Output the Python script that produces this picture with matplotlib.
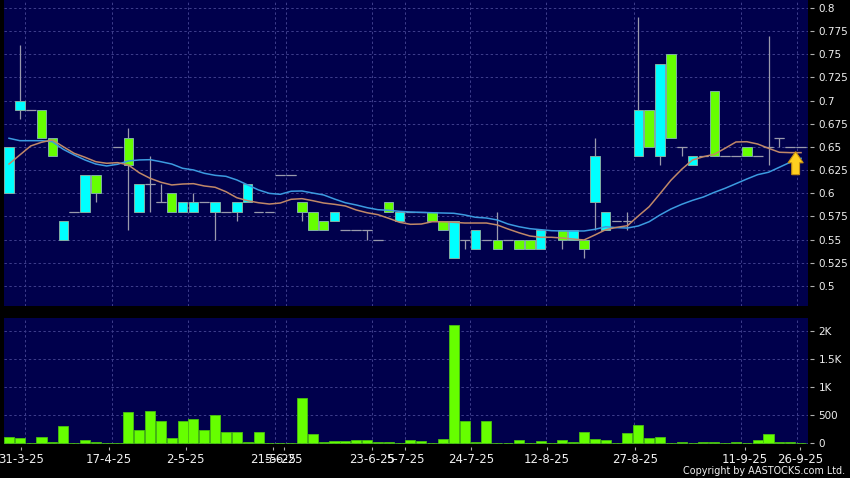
import numpy as np
import matplotlib
matplotlib.use("Agg")
import matplotlib.pyplot as plt
from matplotlib.patches import FancyArrow

nan = np.nan

# daily prices, one entry per slot
open_vals = [.60, .69, .69, .69, .66, .55, .58, .58, .62, nan, .65, .66, .58, .61, .59, .60, .58, .58, .59,
             .58, .58, .58, .59, .58, .58, .62, .62, .59, .58, .57, .57, .56, .56, .56, .55, .59, .57,
             .58, .58, .58, .57, .53, .55, .54, .55, .55, .55, .55, .55, .54, nan, .56, .55, .55, .59,
             .56, .57, .57, .64, .69, .64, .75, .65, .63, .64, .71, .64, .64, .65, .64, .65, .66, .65, .65]
high_vals = [.65, .76, .69, .69, .66, .57, .58, .62, .62, nan, .65, .67, .61, .64, .61, .60, .59, .60, .59,
             .59, .58, .59, .61, .58, .58, .62, .62, .59, .58, .57, .58, .56, .56, .56, .55, .59, .58,
             .58, .58, .58, .57, .57, .55, .56, .55, .58, .55, .55, .55, .56, nan, .56, .56, .55, .66,
             .58, .57, .58, .79, .69, .74, .75, .65, .64, .64, .71, .64, .64, .65, .64, .77, .66, .65, .65]
low_vals = [.60, .68, .69, .66, .64, .55, .58, .58, .59, nan, .65, .56, .58, .58, .59, .58, .58, .58, .59,
            .55, .58, .57, .59, .58, .58, .62, .62, .57, .56, .56, .57, .56, .56, .55, .55, .58, .57,
            .58, .58, .57, .56, .53, .54, .54, .55, .54, .55, .54, .54, .54, nan, .54, .55, .53, .56,
            .56, .57, .56, .64, .65, .63, .66, .64, .63, .64, .64, .64, .64, .64, .64, .63, .65, .65, .65]
close_vals = [.65, .70, .69, .66, .64, .57, .58, .62, .60, nan, .65, .63, .61, .61, .59, .58, .59, .59, .59,
              .59, .58, .59, .61, .58, .58, .62, .62, .58, .56, .56, .58, .56, .56, .56, .55, .58, .58,
              .58, .58, .57, .56, .57, .55, .56, .55, .54, .55, .54, .54, .56, nan, .55, .56, .54, .64,
              .58, .57, .57, .69, .65, .74, .66, .65, .64, .64, .64, .64, .64, .64, .64, .65, .66, .65, .65]

ma_short = [.6315, .6413, .6510, .6550, .6575, .6502, .6431, .6388, .6340, .6323, .6330, .6305, .6221, .6161,
            .6118, .6089, .6099, .6103, .6078, .6064, .6016, .5951, .5919, .5897, .5883, .5894, .5934, .5941,
            .5919, .5894, .5880, .5862, .5819, .5789, .5768, .5729, .5686, .5664, .5667, .5692, .5692, .5686,
            .5678, .5678, .5678, .5657, .5613, .5573, .5538, .5524, .5524, .5516, .5505, .5495, .5549, .5606,
            .5631, .5649, .5754, .5854, .5995, .6139, .6258, .6359, .6394, .6420, .6485, .6553, .6556, .6531,
            .6485, .6442, .6438, .6438]
ma_long = [.6593, .6567, .6567, .6567, .6556, .6474, .6413, .6359, .6315, .6294, .6312, .6348, .6359, .6362,
           .6340, .6315, .6269, .6251, .6215, .6193, .6182, .6143, .6089, .6035, .5998, .5988, .6021, .6024,
           .6002, .5981, .5937, .5897, .5873, .5844, .5822, .5815, .5804, .5797, .5793, .5789, .5786, .5783,
           .5765, .5740, .5732, .5711, .5667, .5638, .5617, .5606, .5595, .5592, .5592, .5592, .5610, .5638,
           .5628, .5624, .5646, .5692, .5765, .5829, .5880, .5923, .5959, .6009, .6053, .6103, .6153, .6200,
           .6226, .6280, .6334, .6377]

volume = [107, 95, 5, 119, 24, 315, 2, 54, 18, 6, 6, 553, 238, 571, 400, 95, 405, 428, 244, 512, 196, 202, 18,
          202, 5, 5, 5, 815, 160, 18, 42, 42, 54, 71, 18, 18, 2, 65, 42, 2, 77, 2112, 405, 18, 400, 12, 12, 71,
          3, 42, 0, 65, 18, 196, 83, 54, 3, 178, 321, 89, 119, 12, 18, 3, 18, 18, 3, 18, 6, 71, 172, 30, 18, 3]

price_ticks = [0.5, 0.525, 0.55, 0.575, 0.6, 0.625, 0.65, 0.675, 0.7, 0.725, 0.75, 0.775, 0.8]
price_labels = ["0.5", "0.525", "0.55", "0.575", "0.6", "0.625", "0.65", "0.675", "0.7", "0.725", "0.75", "0.775", "0.8"]
vol_ticks = [0, 500, 1000, 1500, 2000]
vol_labels = ["0", "500", "1K", "1.5K", "2K"]

# vertical grid sits a little left of the date ticks in the original
grid_slots = [1.47, 9.5, 16.5, 24.5, 25.5, 33.45, 36.5, 42.5, 49.5, 57.6, 67.5, 72.6]
date_slots = [1.1, 9.2, 16.3, 24.3, 25.3, 33.45, 36.5, 42.6, 49.6, 57.7, 67.8, 72.9]
date_labels = ["31-3-25", "17-4-25", "2-5-25", "21-5-25", "5-6-25", "23-6-25", "5-7-25",
               "24-7-25", "12-8-25", "27-8-25", "11-9-25", "26-9-25"]

BG = "#00004c"
GRID = "#3e3e8c"
CYAN = "#00FFFF"
GREEN = "#66FF00"
EDGE = "#80b0a4"
WICK = "#9a9aac"
TEXT = "#f0f0f0"

W, H = 850, 478
slots = np.arange(len(open_vals))
xlim = (-0.46, 73.64)

fig = plt.figure(figsize=(W / 100, H / 100), dpi=100, facecolor="black")
ax = fig.add_axes([4 / W, 1 - 306 / H, 804 / W, 306 / H], facecolor=BG)
ax_vol = fig.add_axes([4 / W, 1 - 444 / H, 804 / W, 126 / H], facecolor=BG)

# candles
o = np.array(open_vals)
c = np.array(close_vals)
colors = [CYAN if b > a else GREEN for a, b in zip(o, c)]
ax.vlines(slots, low_vals, high_vals, color=WICK, lw=0.9, zorder=2)
ax.bar(slots, np.abs(c - o), bottom=np.minimum(o, c), width=0.87, color=colors, edgecolor=EDGE, lw=0.7, zorder=3)
flat = o == c
ax.hlines(o[flat], slots[flat] - 0.45, slots[flat] + 0.45, color=WICK, lw=0.9, zorder=3)

# moving averages
ax.plot(slots, ma_long, color="#3c9be0", lw=1.1, zorder=4)
ax.plot(slots, ma_short, color="#c08868", lw=1.1, zorder=4)

# last price arrow
ax.add_patch(FancyArrow(72.5, 0.62, 0, 0.0248, width=0.72, head_width=1.4, head_length=0.012,
                        length_includes_head=True, facecolor="#ffcf20", edgecolor="#c89010", lw=0.8, zorder=5))

ax.set_xlim(xlim)
ax.set_ylim(0.4782, 0.8086)

# volume
ax_vol.bar(slots, volume, width=0.93, color=GREEN, edgecolor="#48c010", lw=0.6, zorder=3)
ax_vol.set_xlim(xlim)
ax_vol.set_ylim(-9, 2231)

for a, yt in ((ax, price_ticks), (ax_vol, vol_ticks)):
    a.set_xticks(grid_slots)
    a.set_yticks(yt)
    a.tick_params(length=0, labelbottom=False, labelleft=False)
    a.grid(True, color=GRID, ls=(0, (2.5, 2.5)), lw=0.7)
    a.set_axisbelow(True)
    for s in a.spines.values():
        s.set_visible(False)

# ticks sit away from the panels, so they go on offset axes
for a, yt, yl in ((ax, price_ticks, price_labels), (ax_vol, vol_ticks, vol_labels)):
    sec = a.secondary_yaxis(1.0025)
    sec.set_yticks(yt, yl)
    sec.tick_params(length=3, width=0.8, color="#b0b0b0", labelcolor=TEXT, labelsize=7.5, pad=3)
    sec.spines["right"].set_visible(False)

sec = ax_vol.secondary_xaxis(-0.025)
sec.set_xticks(date_slots, date_labels)
sec.tick_params(length=2.5, width=0.8, color="#b0b0b0", labelcolor=TEXT, labelsize=8.5, pad=1.5)
sec.spines["bottom"].set_visible(False)

fig.text(845 / W, 1 - 471 / H, "Copyright by AASTOCKS.com Ltd.", color=TEXT, fontsize=6.9, ha="right", va="center")

fig.savefig("out.png", dpi=100, facecolor="black")
